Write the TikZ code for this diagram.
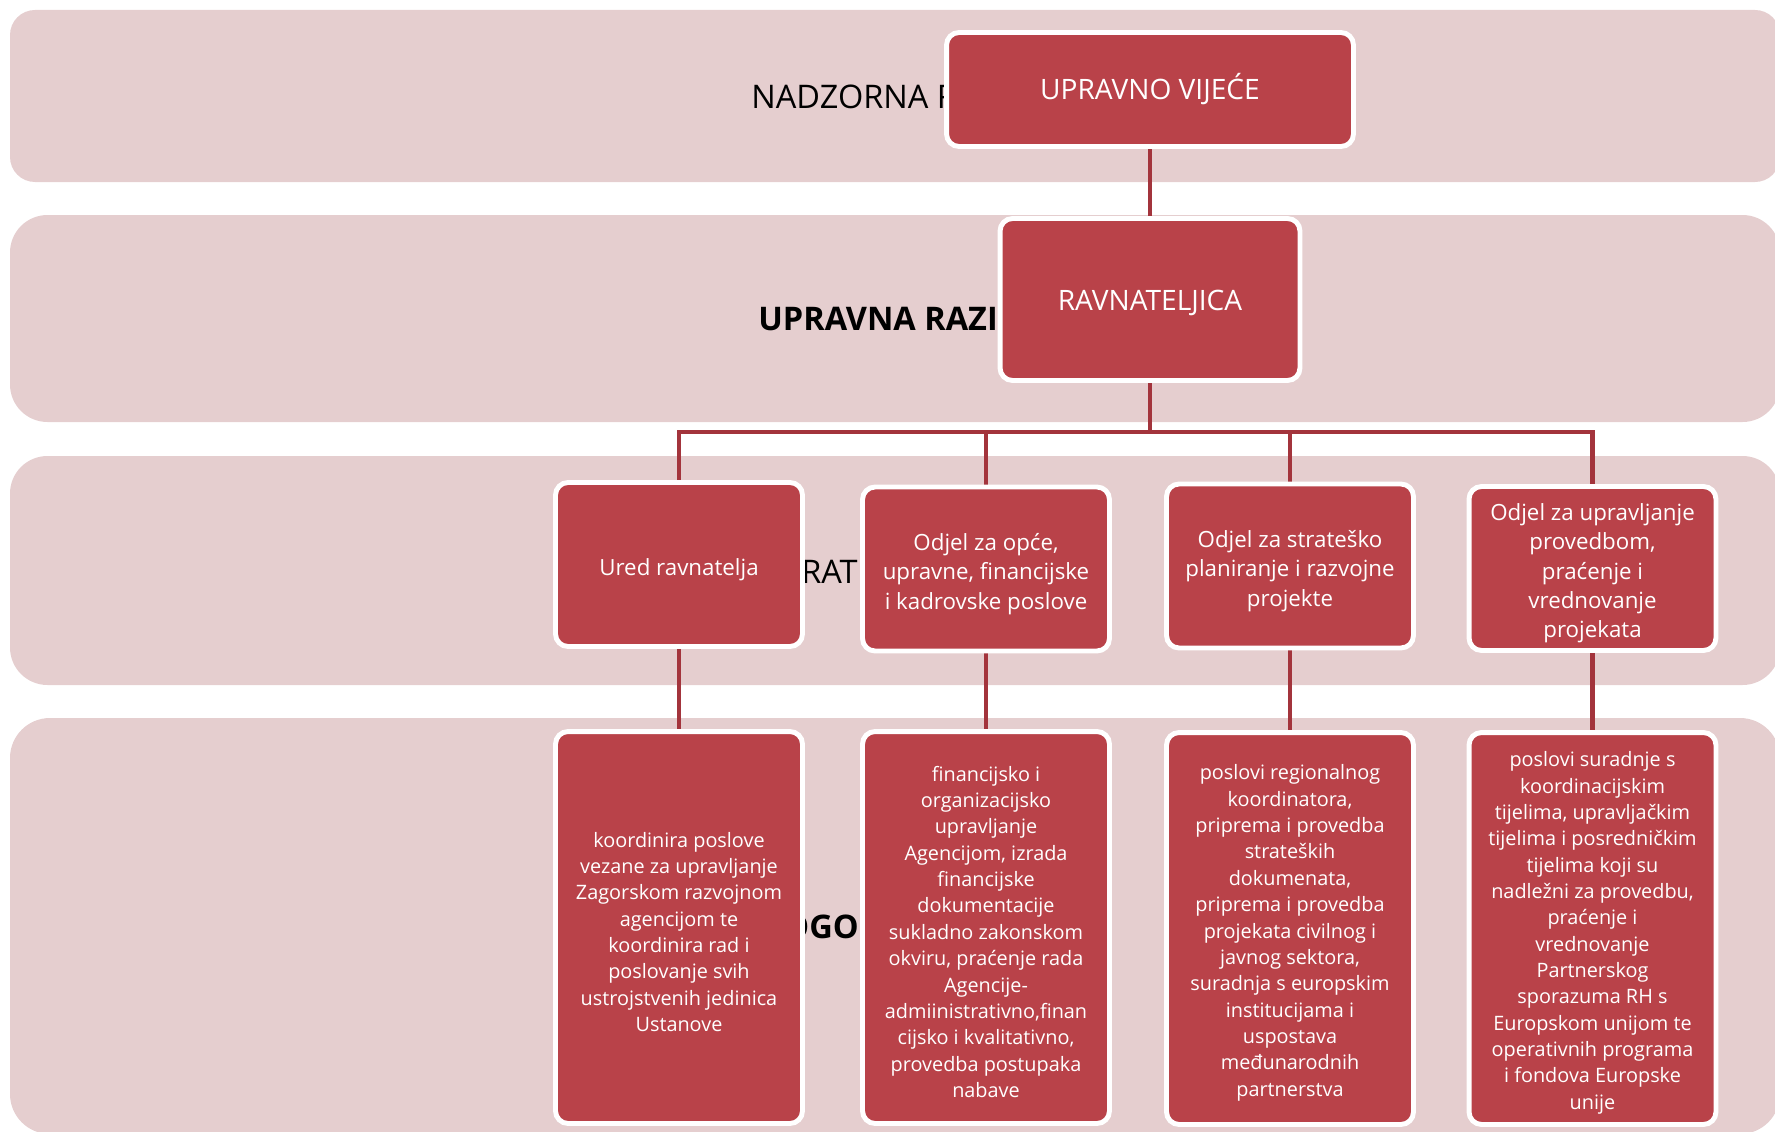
\documentclass[tikz,border=0pt]{standalone}
\usepackage{fontspec}
\setmainfont{Open Sans}
\usepackage{tikz}
\definecolor{bandpink}{RGB}{229,206,207}
\definecolor{boxred}{RGB}{185,66,73}
\definecolor{linkred}{RGB}{163,52,60}
\pgfdeclarelayer{bg}
\pgfdeclarelayer{links}
\pgfsetlayers{bg,links,main}
\newcommand{\topstrut}{\rule{0pt}{1.2em}}
\tikzset{band/.style={fill=bandpink}}
\tikzset{unit/.style={rectangle, rounded corners=0.25cm, fill=boxred, draw=white, line width=2.8pt, text=white, align=center, inner sep=2pt}}
\tikzset{topbox/.style={unit, font=\fontsize{16}{20}\selectfont}}
\tikzset{deptbox/.style={unit, minimum width=4.94cm, minimum height=3.28cm, font=\fontsize{12.7}{16.7}\selectfont}}
\tikzset{taskbox/.style={unit, minimum width=4.94cm, minimum height=7.84cm, font=\fontsize{11.3}{15}\selectfont}}
\tikzset{level/.style={text=black, inner sep=0pt, font=\fontsize{18.5}{22}\selectfont}}
\tikzset{levelbold/.style={level, font=\fontsize{18.5}{22}\selectfont\bfseries}}
\tikzset{link/.style={draw=linkred, line width=2.8pt}}

\begin{document}
\begin{tikzpicture}[x=0.02cm,y=-0.02cm]
\useasboundingbox (0,0) rectangle (1775,1132);
%the four levels
\begin{pgfonlayer}{bg}
\clip (0,0) rectangle (1775,1132);
\fill[band, rounded corners=0.5cm] (10,10) rectangle (1780,182);
\fill[band, rounded corners=0.75cm] (10,215) rectangle (1780,422);
\fill[band, rounded corners=0.75cm] (10,456) rectangle (1780,685);
\fill[band, rounded corners=0.8cm] (10,718) rectangle (1780,1134);
\end{pgfonlayer}
\node (nadzor) at (751,109)[level, anchor=base west]{NADZORNA R};
\node (uprlev) at (758,330)[levelbold, anchor=base west]{UPRAVNA RAZI};
\node (ratlev) at (858,583)[level, anchor=base east]{RAT};
\node (ogolev) at (859,938)[levelbold, anchor=base east]{OGO};
\node (uv) at (1150,89.5)[topbox, minimum width=8.14cm, minimum height=2.28cm]{UPRAVNO VIJEĆE};
\node (rav) at (1150,299.5)[topbox, minimum width=6cm, minimum height=3.24cm]{\rule{0pt}{1em}RAVNATELJICA};
\node (ured) at (679,564.5)[deptbox]{\topstrut Ured ravnatelja};
\node (opci) at (986,569)[deptbox]{\topstrut Odjel za opće,\\upravne, financijske\\i kadrovske poslove};
\node (strat) at (1290,566)[deptbox]{\topstrut Odjel za strateško\\planiranje i razvojne\\projekte};
\node (proved) at (1592.5,568.5)[deptbox]{\topstrut Odjel za upravljanje\\provedbom,\\praćenje i\\vrednovanje\\projekata};
\node (uredpos) at (679,927.5)[taskbox]{\topstrut koordinira poslove\\vezane za upravljanje\\Zagorskom razvojnom\\agencijom te\\koordinira rad i\\poslovanje svih\\ustrojstvenih jedinica\\Ustanove};
\node (opcipos) at (986,927.5)[taskbox]{\topstrut financijsko i\\organizacijsko\\upravljanje\\Agencijom, izrada\\financijske\\dokumentacije\\sukladno zakonskom\\okviru, praćenje rada\\Agencije-\\admiinistrativno,finan\\cijsko i kvalitativno,\\provedba postupaka\\nabave};
\node (stratpos) at (1290,928.5)[taskbox]{\topstrut poslovi regionalnog\\koordinatora,\\priprema i provedba\\strateških\\dokumenata,\\priprema i provedba\\projekata civilnog i\\javnog sektora,\\suradnja s europskim\\institucijama i\\uspostava\\međunarodnih\\partnerstva};
\node (provpos) at (1592.5,928.5)[taskbox]{\topstrut poslovi suradnje s\\koordinacijskim\\tijelima, upravljačkim\\tijelima i posredničkim\\tijelima koji su\\nadležni za provedbu,\\praćenje i\\vrednovanje\\Partnerskog\\sporazuma RH s\\Europskom unijom te\\operativnih programa\\i fondova Europske\\unije};
\begin{pgfonlayer}{links}
\coordinate (bus) at (1150,432);
\draw[link] (uv)--(rav);
\draw[link] (rav)--(bus);
\draw[link] (bus)-|(ured);
\draw[link] (bus)-|(opci);
\draw[link] (bus)-|(strat);
\draw[link] (bus)-|(proved);
\draw[link] (ured)--(uredpos);
\draw[link] (opci)--(opcipos);
\draw[link] (strat)--(stratpos);
\draw[link] (proved)--(provpos);
\end{pgfonlayer}
\end{tikzpicture}
\end{document}
